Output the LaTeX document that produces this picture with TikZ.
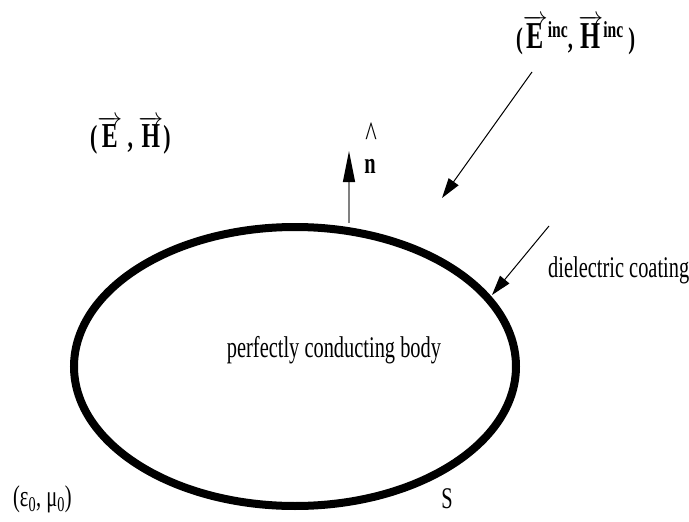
\documentclass[tikz,border=0pt]{standalone}
\usepackage{fontspec}
\setmainfont{Liberation Serif}[FakeStretch=0.68]
\usetikzlibrary{arrows.meta}
\newcommand{\vecE}[1]{$\overrightarrow{\mbox{\fontsize{#1}{#1}\selectfont\bfseries E}}$}
\newcommand{\vecH}[1]{$\overrightarrow{\mbox{\fontsize{#1}{#1}\selectfont\bfseries H}}$}
\newcommand{\incsup}{\raisebox{11pt}{\fontsize{23}{23}\selectfont\bfseries inc}}
\tikzset{
  lab/.style={inner sep=0pt, font=\fontsize{30}{34}\selectfont},
  blab/.style={inner sep=0pt, font=\fontsize{32}{40}\selectfont\bfseries},
  body/.style={line width=8pt},
  thinarrow/.style={line width=1pt, -{Triangle[length=20pt,width=12pt]}},
}
\begin{document}
\begin{tikzpicture}[x=1pt,y=-1pt]
\useasboundingbox (0,0) rectangle (689,522);
\draw[body] (295,366.5) ellipse [x radius=221, y radius=139.5];
\coordinate (nbase) at (349,223);
\coordinate (ntip) at (349,151);
\draw[gray, line width=1.2pt, -{Triangle[color=black,length=31pt,width=12pt]}] (nbase) -- (ntip);
\node[lab, anchor=base, font=\fontsize{36}{40}\selectfont] (nhat) at (371,146) {\textasciicircum};
\node[blab, anchor=base, font=\fontsize{30}{34}\selectfont\bfseries] (n) at (370,173) {n};
\coordinate (incstart) at (532,72);
\coordinate (inctip) at (442,198);
\draw[thinarrow] (incstart) -- (inctip);
\coordinate (dstart) at (549,226);
\coordinate (dtip) at (492,295);
\draw[thinarrow] (dstart) -- (dtip);
\node[lab, anchor=base west] (diel) at (548,277) {dielectric coating};
\node[lab, anchor=base] (pcb) at (334,357) {perfectly conducting body};
\node[lab, anchor=base] (S) at (447,508) {S};
\node[lab, anchor=base west] (eps) at (13,506) {(ε\textsubscript{0}, μ\textsubscript{0})};
\node[blab, anchor=base west] (EH) at (90,147) {(\vecE{35}\,,\,\vecH{35})};
\node[blab, anchor=base west] (EHinc) at (516,48) {{\fontsize{30}{30}\selectfont(}\vecE{38}\incsup{\fontsize{30}{30}\selectfont,} \vecH{38}\incsup{\fontsize{30}{30}\selectfont\,)}};
\end{tikzpicture}
\end{document}
